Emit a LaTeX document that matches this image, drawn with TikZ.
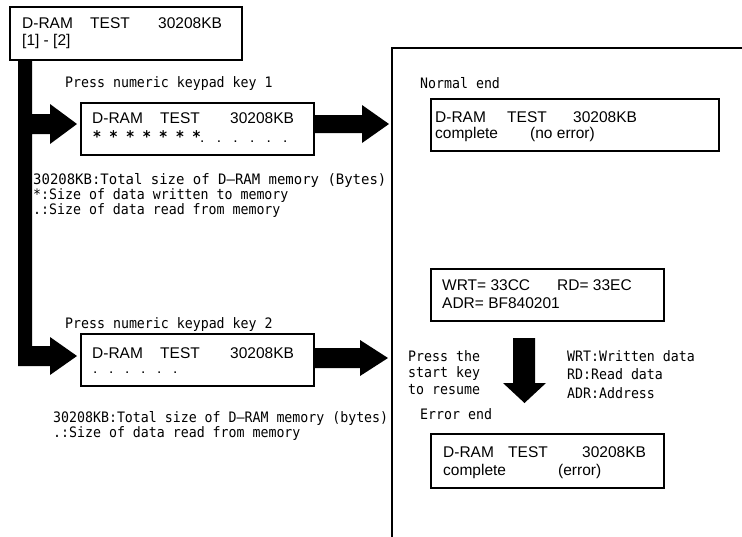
\documentclass[tikz,border=0pt]{standalone}
\usepackage{fontspec}
\setmainfont{Liberation Sans}
\newfontfamily\monof[FakeStretch=0.92]{DejaVu Sans Mono}
\newfontfamily\monow[FakeStretch=0.97]{DejaVu Sans Mono}
\begin{document}
\begin{tikzpicture}[x=1pt,y=-1pt,
  lcd/.style={draw=black,line width=2pt,anchor=north west,inner sep=0pt},
  bt/.style={anchor=base west,inner sep=0pt,font=\fontsize{15.5}{18}\selectfont},
  mt/.style={anchor=base west,inner sep=0pt,font=\monof\fontsize{14.4}{17}\selectfont},
  blk/.style={fill=black,draw=none}]
\useasboundingbox (0,0) rectangle (742,536);
\fill[white] (0,0) rectangle (742,536);
% boxes
\node[lcd,minimum width=232pt,minimum height=53pt] (top) at (9,6) {};
\node[lcd,minimum width=233pt,minimum height=52pt] (b1) at (80,102) {};
\node[lcd,minimum width=233pt,minimum height=52pt] (b2) at (80,333) {};
\node[lcd,minimum width=288pt,minimum height=52pt] (ok) at (430,98) {};
\node[lcd,minimum width=233pt,minimum height=52pt] (wrt) at (430,268) {};
\node[lcd,minimum width=233pt,minimum height=54pt] (err) at (430,433) {};
% big frame
\draw[line width=2pt] (392,537) -- (392,48) -- (743,48);
% top box text
\node[bt] (t1) at (22,28) {D-RAM};
\node[bt] (t2) at (90,28) {TEST};
\node[bt] (t3) at (158,28) {30208KB};
\node[bt] (t4) at (22,45) {[1] - [2]};
% box1 text
\node[bt] (a1) at (92,123.5) {D-RAM};
\node[bt] (a2) at (160,123.5) {TEST};
\node[bt] (a3) at (230,123.5) {30208KB};
\foreach \i in {0,...,6}{\node[inner sep=0pt,font=\monof\bfseries\fontsize{16}{17}\selectfont] (s\i) at (97+16.6*\i,136.5) {*};}
\foreach \i in {0,...,5}{\node[bt] (d\i) at (200+16.6*\i,142) {.};}
% box2 text
\node[bt] (c1) at (92,358) {D-RAM};
\node[bt] (c2) at (160,358) {TEST};
\node[bt] (c3) at (230,358) {30208KB};
\foreach \i in {0,...,5}{\node[bt] (e\i) at (93+16*\i,373) {.};}
% normal end box
\node[bt] (n1) at (435,122) {D-RAM};
\node[bt] (n2) at (507,122) {TEST};
\node[bt] (n3) at (573,122) {30208KB};
\node[bt] (n4) at (435,138) {complete};
\node[bt] (n5) at (530,138) {(no error)};
% wrt box
\node[bt] (w1) at (442,290) {WRT= 33CC};
\node[bt] (w2) at (557,290) {RD= 33EC};
\node[bt] (w3) at (442,308) {ADR= BF840201};
% error box
\node[bt] (r1) at (443,457) {D-RAM};
\node[bt] (r2) at (508,457) {TEST};
\node[bt] (r3) at (582,457) {30208KB};
\node[bt] (r4) at (443,475) {complete};
\node[bt] (r5) at (558,475) {(error)};
% mono annotations
\node[mt] (p1) at (65,87) {Press numeric keypad key 1};
\node[anchor=base west,inner sep=0pt,font=\monow\fontsize{14.4}{17}\selectfont] (x1) at (33,184) {30208KB:Total size of D–RAM memory (Bytes)};
\node[mt] (x2) at (33,199) {*:Size of data written to memory};
\node[mt] (x3) at (33,214) {.:Size of data read from memory};
\node[mt] (p2) at (65,328) {Press numeric keypad key 2};
\node[mt] (y1) at (53,422) {30208KB:Total size of D–RAM memory (bytes)};
\node[mt] (y2) at (53,437) {.:Size of data read from memory};
\node[mt] (ne) at (420,88) {Normal end};
\node[mt] (q1) at (408,361) {Press the};
\node[mt] (q2) at (408,377.5) {start key};
\node[mt] (q3) at (408,394) {to resume};
\node[mt] (k1) at (567,361) {WRT:Written data};
\node[mt] (k2) at (567,379.5) {RD:Read data};
\node[mt] (k3) at (567,398) {ADR:Address};
\node[mt] (ee) at (420,419) {Error end};
% block arrows
\fill[blk] (18,59) -- (32,59) -- (32,114) -- (50,114) -- (50,104) -- (77,124) -- (50,144) -- (50,134) -- (32,134) -- (32,346) -- (50,346) -- (50,337) -- (77,356) -- (50,375) -- (50,366) -- (18,366) -- cycle;
\fill[blk] (314,115) -- (362,115) -- (362,105) -- (389,124) -- (362,143) -- (362,133) -- (314,133) -- cycle;
\fill[blk] (314,348) -- (360,348) -- (360,340) -- (388,358) -- (360,376) -- (360,368) -- (314,368) -- cycle;
\fill[blk] (513,338) -- (535,338) -- (535,383) -- (546,383) -- (524.5,403) -- (503,383) -- (513,383) -- cycle;
\end{tikzpicture}
\end{document}
